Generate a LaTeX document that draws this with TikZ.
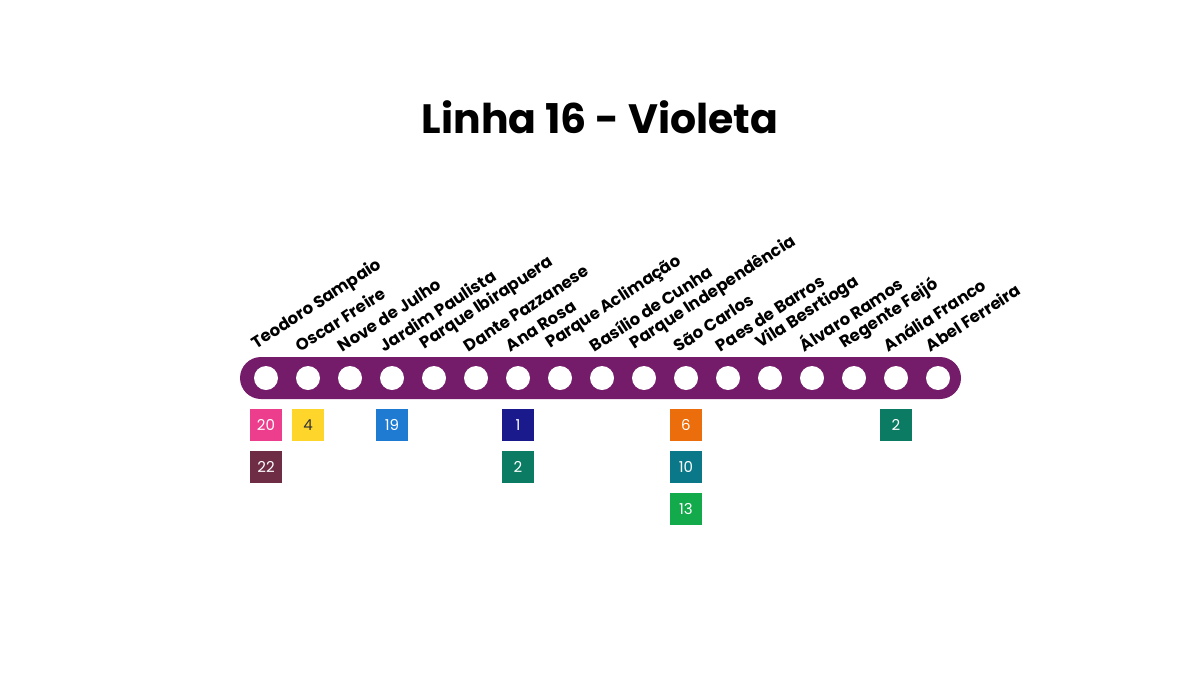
\documentclass[tikz,border=0pt]{standalone}
\usepackage{fontspec}
\setmainfont{Poppins}
\definecolor{violeta}{HTML}{741B6A}
\definecolor{l20}{HTML}{EC3E8C}
\definecolor{l22}{HTML}{6E2D45}
\definecolor{l4}{HTML}{FDD52B}
\definecolor{l19}{HTML}{1F7BD2}
\definecolor{l1}{HTML}{1B1A8C}
\definecolor{l2}{HTML}{0B7B63}
\definecolor{l6}{HTML}{EC6D0B}
\definecolor{l10}{HTML}{0B788A}
\definecolor{l13}{HTML}{13AA4B}
\begin{document}
\begin{tikzpicture}[x=1pt,y=-1pt]
\tikzstyle{station}=[circle,fill=white,minimum size=24pt,inner sep=0pt]
\tikzstyle{stname}=[anchor=south west,rotate=33,inner sep=0pt,font=\fontsize{16.5}{16.5}\selectfont\bfseries]
\tikzstyle{badge}=[minimum size=32pt,inner sep=0pt,text=white,font=\fontsize{15}{15}\selectfont]
\useasboundingbox (0,0) rectangle (1200,675);
\node at (600,117) {\fontsize{41}{41}\selectfont\bfseries Linha 16 - Violeta};
\fill [violeta,rounded corners=21pt] (240,357) rectangle (961,399);
\foreach \n/\name in {1/Teodoro Sampaio,2/Oscar Freire,3/Nove de Julho,4/Jardim Paulista,
  5/Parque Ibirapuera,6/Dante Pazzanese,7/Ana Rosa,8/Parque Aclimação,9/Basílio de Cunha,
  10/Parque Independência,11/São Carlos,12/Paes de Barros,13/Vila Besrtioga,
  14/Álvaro Ramos,15/Regente Feijó,16/Anália Franco,17/Abel Ferreira}
{
\node [station] (s\n) at ({266+42*(\n-1)},378) {};
\node [stname] (t\n) at ({259+42*(\n-1)},353) {\name};
}
% connections
\node [badge,fill=l20] (b1a) at (266,425) {20};
\node [badge,fill=l22] (b1b) at (266,467) {22};
\node [badge,fill=l4,text=black!80] (b2a) at (308,425) {4};
\node [badge,fill=l19] (b4a) at (392,425) {19};
\node [badge,fill=l1] (b7a) at (518,425) {1};
\node [badge,fill=l2] (b7b) at (518,467) {2};
\node [badge,fill=l6] (b11a) at (686,425) {6};
\node [badge,fill=l10] (b11b) at (686,467) {10};
\node [badge,fill=l13] (b11c) at (686,509) {13};
\node [badge,fill=l2] (b16a) at (896,425) {2};
\end{tikzpicture}
\end{document}
